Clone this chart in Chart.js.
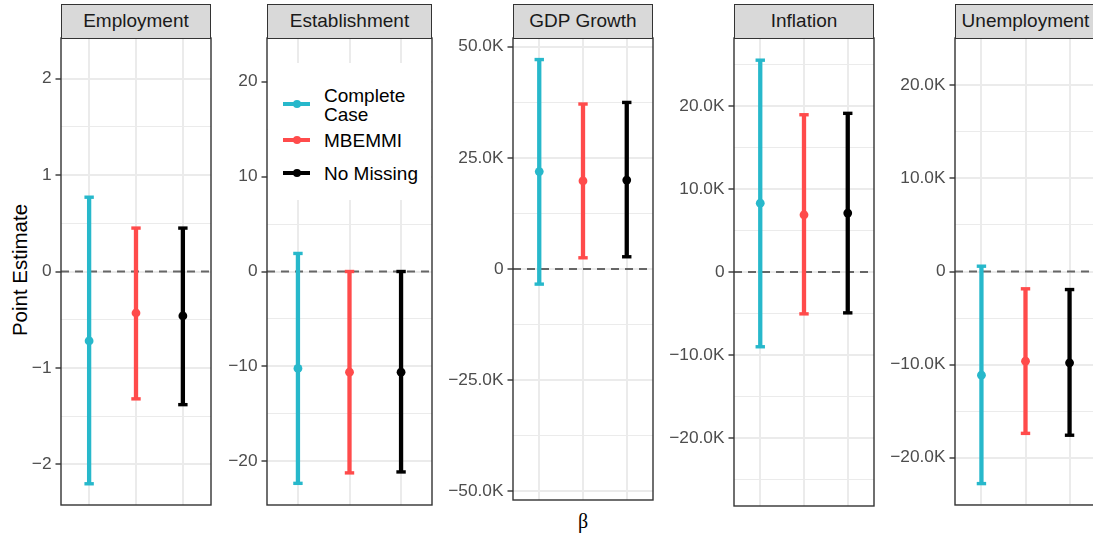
<!DOCTYPE html>
<html>
<head>
<meta charset="utf-8">
<script src="https://cdn.jsdelivr.net/npm/chart.js@4.4.1/dist/chart.umd.min.js"></script>
<style>
  html, body { margin: 0; padding: 0; background: #fff; }
  body { width: 1093px; height: 533px; position: relative; overflow: hidden; font-family: "Liberation Sans", Arial, sans-serif; }
  canvas { position: absolute; }
  .strip {
    position: absolute; top: 4px; height: 35px; box-sizing: border-box;
    background: #D9D9D9; border: 1.4px solid #333333; color: #1A1A1A;
    font-size: 19px; line-height: 32px; text-align: center; white-space: nowrap; overflow: hidden;
  }
  #ytitle {
    position: absolute; left: 20px; top: 270px; transform: translate(-50%, -50%) rotate(-90deg);
    font-size: 20.5px; color: #000; white-space: nowrap;
  }
  #xtitle {
    position: absolute; left: 583px; top: 521px; transform: translate(-50%, -50%);
    font-family: "Liberation Serif", "DejaVu Serif", serif; font-size: 20px; color: #000;
  }
  #legend { position: absolute; left: 268px; top: 63px; width: 163px; height: 137px; background: #fff; }
  .key { position: absolute; left: 15px; width: 27px; height: 4px; margin-top: -2px; }
  .dot { position: absolute; left: 9.5px; top: -2px; width: 8px; height: 8px; border-radius: 50%; }
  .lab { position: absolute; left: 56px; font-size: 19px; line-height: 19.3px; color: #000; white-space: nowrap; }
</style>
</head>
<body>
<div id="ytitle">Point Estimate</div>
<div id="xtitle">β</div>
<script>
const PANELS = ['Employment', 'Establishment', 'GDP Growth', 'Inflation', 'Unemployment'];
const METHODS = ['Complete Case', 'MBEMMI', 'No Missing'];
const COLORS = ['#27B8CB', '#FF4B4B', '#000000'];

// point estimates and interval bounds, one value per panel
const ccEstimate = [-0.72, -10.2, 21900, 8280, -11150];
const ccLower    = [-2.20, -22.3, -3400, -9000, -22800];
const ccUpper    = [0.77, 1.9, 47100, 25500, 570];
const mbEstimate = [-0.43, -10.6, 19800, 6890, -9640];
const mbLower    = [-1.32, -21.2, 2520, -5040, -17400];
const mbUpper    = [0.45, 0, 37100, 18930, -1860];
const nmEstimate = [-0.46, -10.6, 20000, 7090, -9820];
const nmLower    = [-1.38, -21.1, 2750, -4920, -17600];
const nmUpper    = [0.45, 0, 37460, 19100, -1940];

// y axis limits and ticks per panel
const yMin = [-2.42, -24.58, -51950, -28170, -25100];
const yMax = [2.42, 24.58, 51950, 28170, 25100];
const majorTicks = [
  [-2, -1, 0, 1, 2],
  [-20, -10, 0, 10, 20],
  [-50000, -25000, 0, 25000, 50000],
  [-20000, -10000, 0, 10000, 20000],
  [-20000, -10000, 0, 10000, 20000]
];
const tickLabels = [
  ['−2', '−1', '0', '1', '2'],
  ['−20', '−10', '0', '10', '20'],
  ['−50.0K', '−25.0K', '0', '25.0K', '50.0K'],
  ['−20.0K', '−10.0K', '0', '10.0K', '20.0K'],
  ['−20.0K', '−10.0K', '0', '10.0K', '20.0K']
];

const estimates = [ccEstimate, mbEstimate, nmEstimate];
const lowers = [ccLower, mbLower, nmLower];
const uppers = [ccUpper, mbUpper, nmUpper];

// panel boxes in page pixels
const boxes = [
  { left: 61, right: 211, top: 38, bottom: 505 },
  { left: 267, right: 432, top: 38, bottom: 505 },
  { left: 513, right: 653, top: 38, bottom: 500 },
  { left: 734, right: 874, top: 38, bottom: 506 },
  { left: 955, right: 1096, top: 38, bottom: 505 }
];

const panelBorder = {
  id: 'panelBorder',
  afterDraw(chart) {
    const a = chart.chartArea;
    const c = chart.ctx;
    c.save();
    c.strokeStyle = '#333333';
    c.lineWidth = 1.4;
    c.strokeRect(a.left, a.top, a.right - a.left, a.bottom - a.top);
    c.restore();
  }
};

function allTicks(p) {
  const major = majorTicks[p];
  const half = (major[1] - major[0]) / 2;
  const out = [];
  for (let v = major[0] - 2 * half; v <= major[major.length - 1] + 2 * half + 1e-9; v += half) {
    if (v < yMin[p] || v > yMax[p]) continue;
    const isMajor = major.some(m => Math.abs(m - v) < 1e-9);
    out.push({ value: v, minor: !isMajor });
  }
  return out;
}

function noPad(s) {
  s.paddingTop = 0; s.paddingBottom = 0; s.paddingLeft = 0; s.paddingRight = 0;
}

function drawPanel(p) {
  const b = boxes[p];
  const pad = 3;
  const axisW = Math.min(70, b.left);
  const canvas = document.createElement('canvas');
  canvas.width = axisW + (b.right - b.left) + pad;
  canvas.height = (b.bottom - b.top) + 2 * pad;
  canvas.style.left = (b.left - axisW) + 'px';
  canvas.style.top = (b.top - pad) + 'px';
  document.body.appendChild(canvas);

  const strip = document.createElement('div');
  strip.className = 'strip';
  strip.style.left = b.left + 'px';
  strip.style.width = (b.right - b.left) + 'px';
  strip.textContent = PANELS[p];
  document.body.appendChild(strip);

  const datasets = [{
    data: [{ x: 0.4, y: 0 }, { x: 3.6, y: 0 }],
    showLine: true, borderColor: '#666666', borderWidth: 1.8, borderDash: [8, 6],
    pointRadius: 0, order: 5
  }];
  for (let m = 0; m < METHODS.length; m++) {
    const x = m + 1;
    datasets.push({
      label: METHODS[m],
      data: [{ x: x, y: lowers[m][p] }, { x: x, y: uppers[m][p] }],
      showLine: true, borderColor: COLORS[m], borderWidth: 4.3,
      pointRadius: 0, order: 2
    });
    datasets.push({
      data: [{ x: x, y: lowers[m][p] }, { x: x, y: uppers[m][p] }],
      pointStyle: 'line', pointRadius: 4.7, pointBorderWidth: 3.4,
      borderColor: COLORS[m], order: 1
    });
    datasets.push({
      data: [{ x: x, y: estimates[m][p] }],
      pointStyle: 'circle', pointRadius: 4.4, pointBorderWidth: 0,
      backgroundColor: COLORS[m], borderColor: COLORS[m], order: 0
    });
  }

  new Chart(canvas, {
    type: 'scatter',
    data: { datasets: datasets },
    plugins: [panelBorder],
    options: {
      responsive: false,
      animation: false,
      devicePixelRatio: 1,
      layout: { autoPadding: false, padding: { left: 0, top: pad, right: pad, bottom: pad } },
      plugins: { legend: { display: false }, tooltip: { enabled: false } },
      scales: {
        x: {
          type: 'linear', min: 0.4, max: 3.6,
          afterBuildTicks: s => { s.ticks = [{ value: 1 }, { value: 2 }, { value: 3 }]; },
          afterFit: s => { s.height = 0; noPad(s); },
          ticks: { display: false },
          grid: { color: '#EBEBEB', lineWidth: 2, drawTicks: false },
          border: { display: false }
        },
        y: {
          type: 'linear', min: yMin[p], max: yMax[p],
          afterBuildTicks: s => { s.ticks = allTicks(p); },
          afterFit: s => { s.width = axisW; noPad(s); },
          ticks: {
            autoSkip: false,
            padding: 4,
            color: '#4D4D4D',
            font: { family: '"Liberation Sans", Arial, sans-serif', size: 17.3 },
            callback: (value) => {
              const i = majorTicks[p].findIndex(m => Math.abs(m - value) < 1e-9);
              return i < 0 ? '' : tickLabels[p][i];
            }
          },
          grid: {
            color: '#EBEBEB',
            lineWidth: c => (c.tick && c.tick.minor) ? 1 : 2,
            tickLength: 5.5,
            tickWidth: 1.4,
            tickColor: c => (c.tick && c.tick.minor) ? 'rgba(0,0,0,0)' : '#333333'
          },
          border: { display: false }
        }
      }
    }
  });
}

for (let p = 0; p < PANELS.length; p++) drawPanel(p);

// legend placed inside the Establishment panel
const legend = document.createElement('div');
legend.id = 'legend';
const rows = [
  { key: 41, text: ['Complete', 'Case'], top: 22.5 },
  { key: 77, text: ['MBEMMI'], top: 67.5 },
  { key: 110, text: ['No Missing'], top: 100.5 }
];
rows.forEach((r, i) => {
  const key = document.createElement('div');
  key.className = 'key';
  key.style.top = r.key + 'px';
  key.style.background = COLORS[i];
  const dot = document.createElement('div');
  dot.className = 'dot';
  dot.style.background = COLORS[i];
  key.appendChild(dot);
  legend.appendChild(key);
  const lab = document.createElement('div');
  lab.className = 'lab';
  lab.style.top = r.top + 'px';
  lab.innerHTML = r.text.join('<br>');
  legend.appendChild(lab);
});
document.body.appendChild(legend);
</script>
</body>
</html>
